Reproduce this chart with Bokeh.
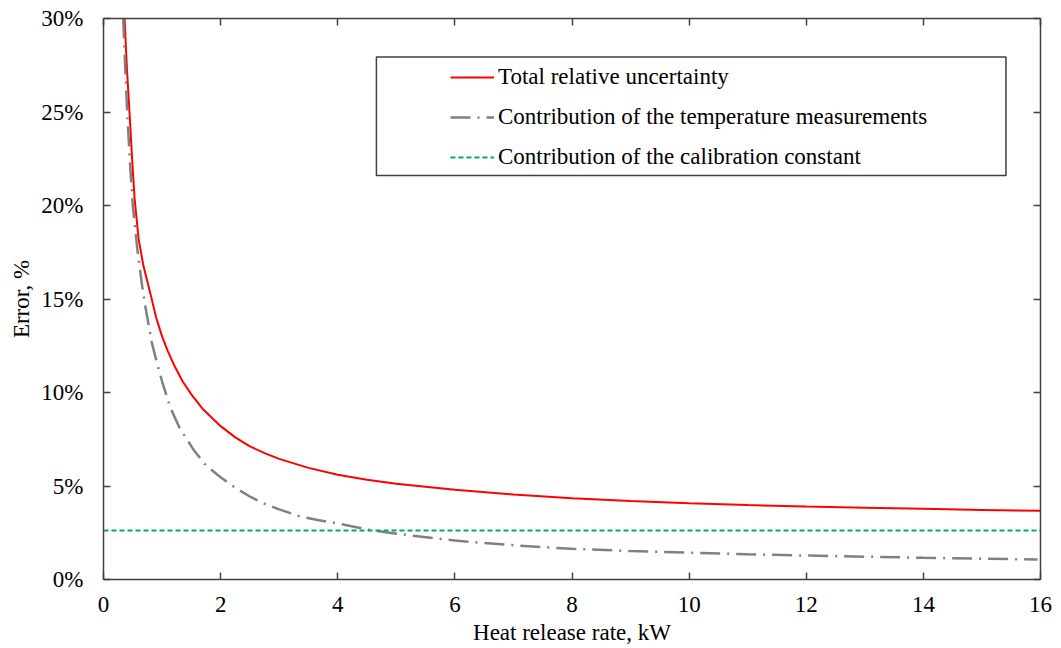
from bokeh.plotting import figure
from bokeh.models import (Range1d, LinearAxis, FixedTicker, PrintfTickFormatter,
                          CustomJSTickFormatter, Legend, LegendItem, BoxAnnotation)
from bokeh.embed import file_html
from bokeh.resources import INLINE

# ---- data ----
total_x = [0.36, 0.40, 0.444, 0.49, 0.53, 0.60, 0.68, 0.80, 0.90, 1.0, 1.1, 1.2,
           1.35, 1.5, 1.7, 2.0, 2.25, 2.5, 2.75, 3.0, 3.5, 4.0, 4.5, 5.0, 6.0,
           7.0, 8.0, 9.0, 10.0, 11.0, 12.0, 13.0, 14.0, 15.0, 16.0]
total_y = [30.0, 27.3, 25.0, 22.4, 20.4, 18.2, 16.8, 15.3, 14.0, 13.0, 12.2, 11.5,
           10.6, 9.9, 9.1, 8.2, 7.6, 7.12, 6.76, 6.45, 5.97, 5.6, 5.33, 5.12, 4.8,
           4.55, 4.35, 4.2, 4.08, 3.98, 3.9, 3.84, 3.78, 3.72, 3.67]

temp_x = [0.337, 0.37, 0.405, 0.45, 0.50, 0.58, 0.66, 0.72, 0.83, 0.92, 1.0,
          1.14, 1.3, 1.54, 1.75, 2.0, 2.25, 2.52, 2.75, 3.0, 3.36, 3.68, 4.0,
          4.6, 5.0, 6.0, 7.0, 8.0, 9.0, 10.0, 11.0, 12.0, 13.0, 14.0, 15.0, 15.95]
temp_y = [30.0, 27.4, 25.0, 22.4, 20.0, 17.6, 15.7, 14.5, 12.6, 11.5, 10.6,
          9.2, 8.1, 6.93, 6.1, 5.47, 4.9, 4.4, 4.05, 3.75, 3.37, 3.17, 3.0,
          2.62, 2.45, 2.08, 1.83, 1.64, 1.52, 1.43, 1.35, 1.28, 1.22, 1.16, 1.11,
          1.07]

calib_x = [0.0, 16.0]
calib_y = [2.62, 2.62]

x_ticks = [0, 2, 4, 6, 8, 10, 12, 14, 16]
y_ticks = [0, 5, 10, 15, 20, 25, 30]

labels = ["Total relative uncertainty",
          "Contribution of the temperature measurements",
          "Contribution of the calibration constant"]

FONT = "Liberation Serif"
FS = "23px"
AX = "#404040"

p = figure(width=1061, height=648, output_backend="svg", toolbar_location=None,
           x_range=Range1d(0, 16), y_range=Range1d(0, 30),
           min_border_left=103, min_border_right=21, min_border_top=18,
           min_border_bottom=69)
p.xgrid.visible = False
p.ygrid.visible = False
p.outline_line_color = None
p.background_fill_color = "white"
p.border_fill_color = "white"

r_total = p.line(total_x, total_y, line_color="#ff0000", line_width=2)
r_temp = p.line(temp_x, temp_y, line_color="#808080", line_width=2.5,
                line_dash="20 7 2 7")
r_cal = p.line(calib_x, calib_y, line_color="#00b050", line_width=2.2,
               line_dash="5 3")


def style_axis(ax):
    ax.axis_line_color = AX
    ax.axis_line_width = 1.5
    ax.major_tick_line_color = AX
    ax.major_tick_line_width = 1.5
    ax.major_tick_in = 7
    ax.major_tick_out = 0
    ax.minor_tick_line_color = None
    ax.major_label_text_font = FONT
    ax.major_label_text_color = "black"
    ax.major_label_text_font_size = FS
    ax.axis_label_text_font = FONT
    ax.axis_label_text_font_style = "normal"
    ax.axis_label_text_color = "black"
    ax.axis_label_text_font_size = FS


xb = p.xaxis[0]
xb.ticker = FixedTicker(ticks=x_ticks)
xb.axis_label = "Heat release rate, kW"
style_axis(xb)
xb.major_label_standoff = 17
xb.axis_label_standoff = 5

yl = p.yaxis[0]
yl.ticker = FixedTicker(ticks=y_ticks)
yl.formatter = PrintfTickFormatter(format="%d%%")
yl.axis_label = "Error, %"
style_axis(yl)
yl.major_label_standoff = 20
yl.axis_label_standoff = 4

blank = CustomJSTickFormatter(code="return ''")
xt = LinearAxis(ticker=FixedTicker(ticks=x_ticks), formatter=blank)
style_axis(xt)
p.add_layout(xt, "above")

yr = LinearAxis(ticker=FixedTicker(ticks=y_ticks), formatter=blank)
style_axis(yr)
p.add_layout(yr, "right")

# legend frame
box = BoxAnnotation(left=4.66, right=15.41, bottom=21.6, top=27.94,
                    fill_alpha=0, line_color=AX, line_alpha=1.0, line_width=1.5,
                    level="overlay")
p.add_layout(box)

legend = Legend(items=[LegendItem(label=labels[0], renderers=[r_total]),
                       LegendItem(label=labels[1], renderers=[r_temp]),
                       LegendItem(label=labels[2], renderers=[r_cal])],
                location=(347, 407))
legend.border_line_color = None
legend.background_fill_alpha = 0
legend.padding = 0
legend.margin = 0
legend.spacing = 10
legend.glyph_width = 44
legend.glyph_height = 30
legend.label_height = 30
legend.label_standoff = 4
legend.label_text_font = FONT
legend.label_text_font_size = FS
legend.label_text_color = "black"
p.add_layout(legend, "center")

open("out.html", "w").write(file_html(p, INLINE))
